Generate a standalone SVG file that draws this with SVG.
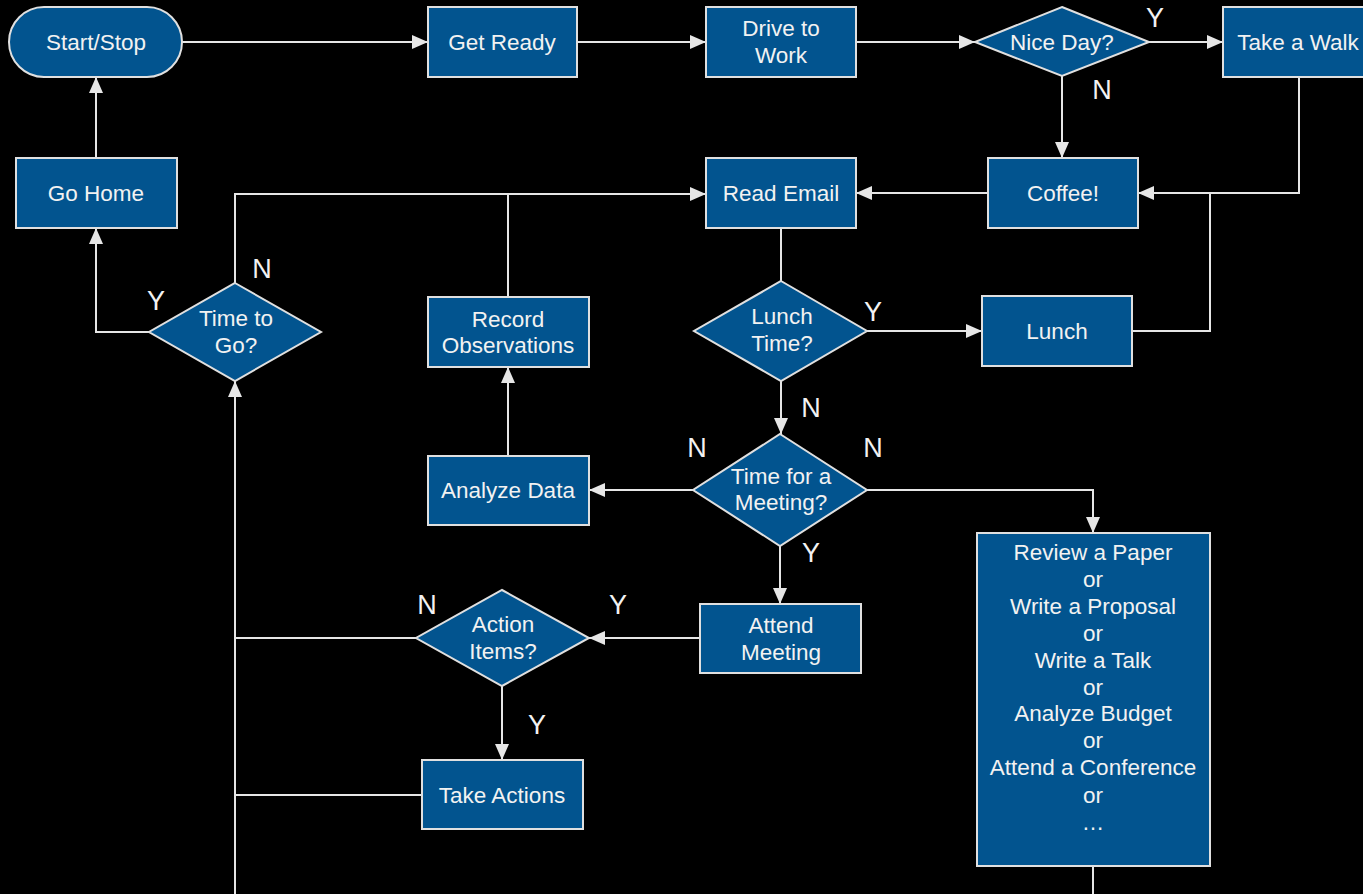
<svg xmlns="http://www.w3.org/2000/svg" width="1363" height="894" viewBox="0 0 1363 894">
<style>
.n{fill:#02548f;stroke:#e0e0e0;stroke-width:2}
.t{font-family:"Liberation Sans",Arial,sans-serif;font-size:22.5px;fill:#f2f2f2;text-anchor:middle}
.l{font-family:"Liberation Sans",Arial,sans-serif;font-size:27px;fill:#f2f2f2;text-anchor:middle}
.c{fill:none;stroke:#e6e6e6;stroke-width:2}
</style>
<defs>
<marker id="a" markerUnits="userSpaceOnUse" markerWidth="18" markerHeight="16" refX="16" refY="7" orient="auto">
<path d="M0,0 L16,7 L0,14 z" fill="#e6e6e6"/>
</marker>
</defs>
<rect width="1363" height="894" fill="#000"/>
<g id="connectors">
<path class="c" d="M182,42 H428" marker-end="url(#a)"/>
<path class="c" d="M577,42 H706" marker-end="url(#a)"/>
<path class="c" d="M856,42 H975" marker-end="url(#a)"/>
<path class="c" d="M1149,42 H1223" marker-end="url(#a)"/>
<path class="c" d="M1062,76 V158" marker-end="url(#a)"/>
<path class="c" d="M1299,77 V193 H1138" marker-end="url(#a)"/>
<path class="c" d="M1132,331 H1210 V193"/>
<path class="c" d="M988,193 H856" marker-end="url(#a)"/>
<path class="c" d="M781,228 V281"/>
<path class="c" d="M867,331 H982" marker-end="url(#a)"/>
<path class="c" d="M781,381 V434" marker-end="url(#a)"/>
<path class="c" d="M693,490 H589" marker-end="url(#a)"/>
<path class="c" d="M867,490 H1093 V533" marker-end="url(#a)"/>
<path class="c" d="M780,546 V604" marker-end="url(#a)"/>
<path class="c" d="M700,638 H589" marker-end="url(#a)"/>
<path class="c" d="M416,638 H235"/>
<path class="c" d="M502,686 V760" marker-end="url(#a)"/>
<path class="c" d="M422,795 H235"/>
<path class="c" d="M235,894 V381" marker-end="url(#a)"/>
<path class="c" d="M235,283 V194 H706" marker-end="url(#a)"/>
<path class="c" d="M508,297 V194"/>
<path class="c" d="M508,456 V367" marker-end="url(#a)"/>
<path class="c" d="M149,332 H96 V228" marker-end="url(#a)"/>
<path class="c" d="M96,158 V77" marker-end="url(#a)"/>
<path class="c" d="M1093,866 V894"/>
<text class="l" x="1155" y="27">Y</text>
<text class="l" x="1102" y="99">N</text>
<text class="l" x="873" y="321">Y</text>
<text class="l" x="811" y="417">N</text>
<text class="l" x="697" y="457">N</text>
<text class="l" x="873" y="457">N</text>
<text class="l" x="811" y="562">Y</text>
<text class="l" x="427" y="614">N</text>
<text class="l" x="618" y="614">Y</text>
<text class="l" x="537" y="734">Y</text>
<text class="l" x="262" y="278">N</text>
<text class="l" x="156" y="310">Y</text>
</g>
<g id="start-stop"><rect class="n" x="9" y="7" width="173" height="70" rx="35"/><text class="t" x="96" y="50">Start/Stop</text></g>
<g id="get-ready"><rect class="n" x="428" y="7" width="149" height="70"/><text class="t" x="502" y="50">Get Ready</text></g>
<g id="drive-to-work"><rect class="n" x="706" y="7" width="150" height="70"/><text class="t" x="781" y="36">Drive to</text><text class="t" x="781" y="63">Work</text></g>
<g id="nice-day"><polygon class="n" points="1062,7 1149,42 1062,76 975,42"/><text class="t" x="1062" y="50">Nice Day?</text></g>
<g id="take-a-walk"><rect class="n" x="1223" y="7" width="152" height="70"/><text class="t" x="1298" y="50">Take a Walk</text></g>
<g id="go-home"><rect class="n" x="16" y="158" width="161" height="70"/><text class="t" x="96" y="201">Go Home</text></g>
<g id="read-email"><rect class="n" x="706" y="158" width="150" height="70"/><text class="t" x="781" y="201">Read Email</text></g>
<g id="coffee"><rect class="n" x="988" y="158" width="150" height="70"/><text class="t" x="1063" y="201">Coffee!</text></g>
<g id="time-to-go"><polygon class="n" points="235,283 321,332 235,381 149,332"/><text class="t" x="236" y="326">Time to</text><text class="t" x="236" y="353">Go?</text></g>
<g id="record-observations"><rect class="n" x="428" y="297" width="161" height="70"/><text class="t" x="508" y="327">Record</text><text class="t" x="508" y="353">Observations</text></g>
<g id="lunch-time"><polygon class="n" points="781,281 867,331 781,381 694,331"/><text class="t" x="782" y="324">Lunch</text><text class="t" x="782" y="351">Time?</text></g>
<g id="lunch"><rect class="n" x="982" y="296" width="150" height="70"/><text class="t" x="1057" y="339">Lunch</text></g>
<g id="analyze-data"><rect class="n" x="428" y="456" width="161" height="69"/><text class="t" x="508" y="498">Analyze Data</text></g>
<g id="time-for-meeting"><polygon class="n" points="780,434 867,490 780,546 693,490"/><text class="t" x="781" y="484">Time for a</text><text class="t" x="781" y="510">Meeting?</text></g>
<g id="review"><rect class="n" x="977" y="533" width="233" height="333"/>
<text class="t" x="1093" y="560">Review a Paper</text>
<text class="t" x="1093" y="587">or</text>
<text class="t" x="1093" y="614">Write a Proposal</text>
<text class="t" x="1093" y="641">or</text>
<text class="t" x="1093" y="668">Write a Talk</text>
<text class="t" x="1093" y="695">or</text>
<text class="t" x="1093" y="721">Analyze Budget</text>
<text class="t" x="1093" y="748">or</text>
<text class="t" x="1093" y="775">Attend a Conference</text>
<text class="t" x="1093" y="803">or</text>
<text class="t" x="1093" y="830">…</text>
</g>
<g id="action-items"><polygon class="n" points="502,590 589,638 502,686 416,638"/><text class="t" x="503" y="632">Action</text><text class="t" x="503" y="659">Items?</text></g>
<g id="attend-meeting"><rect class="n" x="700" y="604" width="161" height="69"/><text class="t" x="781" y="633">Attend</text><text class="t" x="781" y="660">Meeting</text></g>
<g id="take-actions"><rect class="n" x="422" y="760" width="161" height="69"/><text class="t" x="502" y="803">Take Actions</text></g>
</svg>
